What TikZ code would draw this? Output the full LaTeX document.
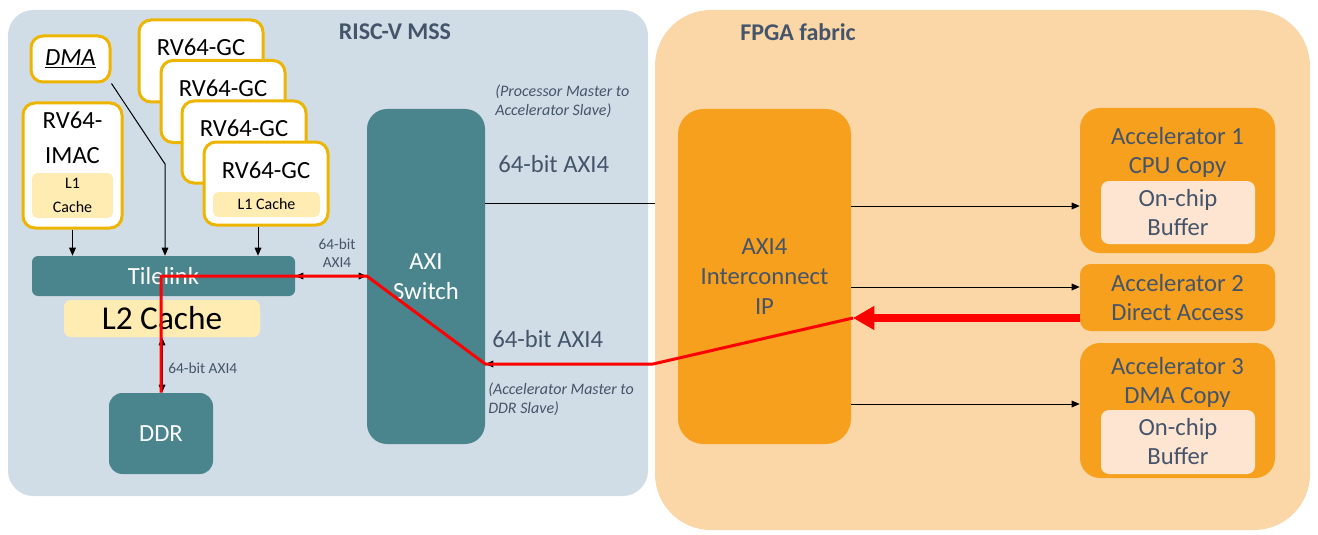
\documentclass[tikz,border=0pt]{standalone}
\usepackage{fontspec}
\setmainfont{Carlito}
\usepackage{xcolor}
\usetikzlibrary{arrows.meta,positioning}
\definecolor{mssbg}{HTML}{D1DDE6}
\definecolor{fpgabg}{HTML}{FBD6A7}
\definecolor{tealbox}{HTML}{4A858E}
\definecolor{accorange}{HTML}{F6A01E}
\definecolor{buffill}{HTML}{FDE5D2}
\definecolor{coreedge}{HTML}{EEB500}
\definecolor{cachefill}{HTML}{FFECB3}
\definecolor{slate}{HTML}{44546A}

\begin{document}
\begin{tikzpicture}[x=0.75pt, y=-0.75pt, every node/.style={align=center, inner sep=0pt},
  region/.style={rectangle, rounded corners=19pt},
  title/.style={text=slate, font=\bfseries\fontsize{18}{22}\selectfont},
  core/.style={rectangle, rounded corners=9pt, draw=coreedge, line width=2.25pt, fill=white},
  coretext/.style={font=\fontsize{18.5}{26.25}\selectfont},
  cache/.style={rectangle, rounded corners=4pt, fill=cachefill, font=\fontsize{12}{18}\selectfont},
  bus/.style={rectangle, rounded corners=4.5pt, fill=tealbox, text=white, font=\fontsize{18.5}{22.5}\selectfont},
  accel/.style={rectangle, rounded corners=15pt, fill=accorange},
  acctext/.style={text=slate, font=\fontsize{18.5}{21.75}\selectfont},
  buffer/.style={rectangle, rounded corners=6pt, fill=buffill, text=slate, font=\fontsize{18.5}{21.75}\selectfont},
  smalllbl/.style={text=slate, font=\fontsize{11.5}{13.5}\selectfont},
  biglbl/.style={text=slate, font=\fontsize{18.5}{22}\selectfont, anchor=west},
  note/.style={text=slate, font=\itshape\fontsize{12}{14.25}\selectfont, align=left, anchor=west},
  arr/.style={-{Triangle[length=6pt,width=5pt]}, line width=0.75pt},
  darr/.style={{Triangle[length=6pt,width=5pt]}-{Triangle[length=6pt,width=5pt]}, line width=0.75pt},
  redpath/.style={red, line width=2.25pt},
  bigred/.style={red, line width=6pt, -{Triangle[length=16pt,width=17pt]}}]
\useasboundingbox (0,0) rectangle (1318,535);
% regions
\node[region, fill=mssbg, minimum width=480pt, minimum height=364.5pt] (mss) at (328,253) {};
\node[region, fill=fpgabg, rounded corners=42pt, minimum width=491.25pt, minimum height=390pt] (fpga) at (982.5,270) {};
\node[title] (msstitle) at (395,32) {RISC-V MSS};
\node[title] (fpgatitle) at (798,32) {FPGA fabric};
% processor side
\node[core, coretext, minimum width=59.25pt, minimum height=34.5pt] (dma) at (70.5,59) {\underline{\textit{DMA}}};
\node[core, minimum width=74.25pt, minimum height=93.75pt] (imac) at (72.5,165.5) {};
\node[coretext] (imactxt) at (72.5,137.5) {RV64-\\IMAC};
\node[cache, minimum width=60.75pt, minimum height=33.75pt] (l1imac) at (72.5,195.5) {L1\\Cache};
\node[core, minimum width=93pt, minimum height=61.5pt] (gc1) at (201,61) {};
\node[coretext] (gc1txt) at (201,47) {RV64-GC};
\node[core, minimum width=93pt, minimum height=61.5pt] (gc2) at (223,101.5) {};
\node[coretext] (gc2txt) at (223,88) {RV64-GC};
\node[core, minimum width=93pt, minimum height=61.5pt] (gc3) at (244,142) {};
\node[coretext] (gc3txt) at (244,128) {RV64-GC};
\node[core, minimum width=93pt, minimum height=62.25pt] (gc4) at (266,183.5) {};
\node[coretext] (gc4txt) at (266,170) {RV64-GC};
\node[cache, minimum width=80.25pt, minimum height=18.75pt] (l1gc) at (266.5,204.5) {L1 Cache};
\node[bus, minimum width=197.25pt, minimum height=30pt] (tilelink) at (163.5,276) {Tilelink};
\node[cache, rounded corners=5pt, font=\fontsize{25}{30}\selectfont, minimum width=147pt, minimum height=27.75pt] (l2) at (162,318.5) {L2 Cache};
\node[bus, rounded corners=10pt, minimum width=78pt, minimum height=60.75pt] (ddr) at (161,433.5) {DDR};
\node[bus, rounded corners=15pt, minimum width=88.5pt, minimum height=251.25pt] (axisw) at (426,276.5) {AXI\\Switch};
% fabric side
\node[accel, rounded corners=19pt, text=slate, font=\fontsize{18.5}{22.5}\selectfont, minimum width=129.75pt, minimum height=251.25pt] (icn) at (764.5,276.5) {AXI4\\Interconnect\\IP};
\node[accel, minimum width=146.25pt, minimum height=108.75pt] (acc1) at (1177.5,180.5) {};
\node[acctext] (acc1txt) at (1177.5,152) {Accelerator 1\\CPU Copy};
\node[buffer, minimum width=115.5pt, minimum height=47.25pt] (buf1) at (1178,212.5) {On-chip\\Buffer};
\node[accel, rounded corners=8pt, acctext, minimum width=146.25pt, minimum height=50.25pt] (acc2) at (1177.5,297.5) {Accelerator 2\\Direct Access};
\node[accel, minimum width=146.25pt, minimum height=101.25pt] (acc3) at (1177.5,410.5) {};
\node[acctext] (acc3txt) at (1177.5,382) {Accelerator 3\\DMA Copy};
\node[buffer, minimum width=115.5pt, minimum height=48pt] (buf3) at (1178,442) {On-chip\\Buffer};
% labels
\node[smalllbl] (tlaxi) at (337,253) {64-bit\\AXI4};
\node[smalllbl, anchor=west] (ddraxi) at (168,368) {64-bit AXI4};
\node[note] (pmnote) at (495,101.5) {(Processor Master to\\Accelerator Slave)};
\node[biglbl] (pmaxi) at (498,164) {64-bit AXI4};
\node[biglbl] (amaxi) at (492,339) {64-bit AXI4};
\node[note] (amnote) at (488,399.5) {(Accelerator Master to\\DDR Slave)};
% connectors
\coordinate (dmabend) at (165,164);
\draw[arr] (imac.south) -- (imac.south |- tilelink.north);
\draw[arr] (dma.south east) -- (dmabend) -- (dmabend |- tilelink.north);
\draw[arr] ([xshift=-6pt]gc4.south) -- ([xshift=-6pt]gc4.south |- tilelink.north);
\draw[darr] (tilelink.east) -- (tilelink.east -| axisw.west);
\draw[darr] (l2.south) -- (l2.south |- ddr.north);
\draw[line width=0.75pt] (axisw.east |- 0,203) -- (fpga.west |- 0,203);
\draw[arr] (fpga.west |- 0,364) -- (axisw.east |- 0,364);
\foreach \acc/\yy in {acc1/206, acc2/287, acc3/404}
  \draw[arr] (icn.east |- 0,\yy) -- (\acc.west |- 0,\yy);
% accelerator to DDR path
\coordinate (icnhit) at (853,318);
\draw[redpath] (ddr.north) |- (axisw.west |- tilelink.center) -- (axisw.east |- 0,364) -- (653,364) -- (icnhit);
\draw[bigred] (acc2.west |- icnhit) -- (icnhit);
\end{tikzpicture}
\end{document}
